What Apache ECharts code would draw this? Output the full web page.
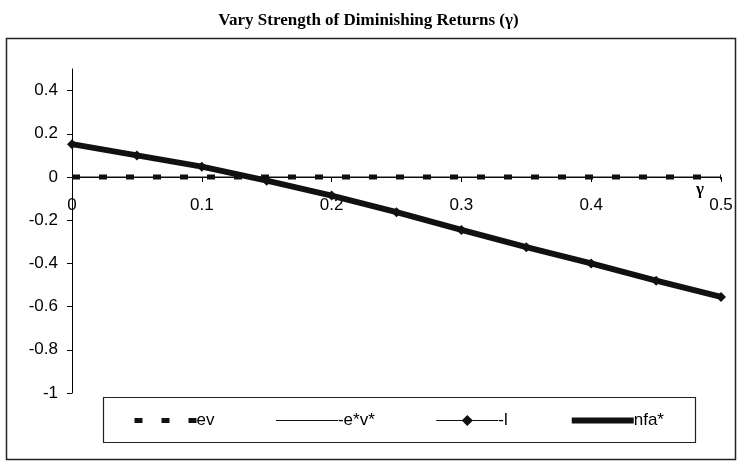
<!DOCTYPE html>
<html>
<head>
<meta charset="utf-8">
<script src="https://cdn.jsdelivr.net/npm/echarts@6/dist/echarts.min.js"></script>
<style>html,body{margin:0;padding:0;background:#fff}#c{width:737px;height:461px}</style>
</head>
<body>
<div id="c"></div>
<script>
var gamma = [0, 0.05, 0.1, 0.15, 0.2, 0.25, 0.3, 0.35, 0.4, 0.45, 0.5];
var ev = [0, 0, 0, 0, 0, 0, 0, 0, 0, 0, 0];
var negEV = [0, 0, 0, 0, 0, 0, 0, 0, 0, 0, 0];
var negL = [0.152, 0.10, 0.048, -0.017, -0.086, -0.163, -0.245, -0.325, -0.40, -0.48, -0.555];
var nfa = [0.152, 0.10, 0.048, -0.017, -0.086, -0.163, -0.245, -0.325, -0.40, -0.48, -0.555];
var yTicks = [-1, -0.8, -0.6, -0.4, -0.2, 0, 0.2, 0.4];
var seriesNames = ['ev', '-e*v*', '-l', 'nfa*'];
var titleText = 'Vary Strength of Diminishing Returns (\u03b3)';
var yMin = -1, yMax = 0.5;

function pairs(vals) { return gamma.map(function (g, i) { return [g, vals[i]]; }); }

var gridTop = 69, gridBottom = 68, H = 461;
var gridH = H - gridTop - gridBottom;
// place the x axis where y = 0 (offset from the bottom edge of the grid)
var zeroOffset = -gridH * (0 - yMin) / (yMax - yMin);

var chart = echarts.init(document.getElementById('c'), null, {renderer: 'canvas'});
var font = '"Liberation Sans", Arial, sans-serif';
var fmt = function (v) { return String(+(+v).toFixed(2)); };
chart.setOption({
  animation: false,
  backgroundColor: '#fff',
  title: {
    text: titleText, left: 'center', top: 7,
    textStyle: {fontFamily: '"Liberation Serif", "Times New Roman", serif', fontWeight: 'bold', fontSize: 17, color: '#000'}
  },
  graphic: [
    {type: 'rect', shape: {x: 6.5, y: 38.5, width: 729, height: 421}, style: {fill: 'none', stroke: '#222', lineWidth: 1.5}, silent: true},
    {type: 'rect', shape: {x: 103.5, y: 397.5, width: 592, height: 45}, style: {fill: '#fff', stroke: '#222', lineWidth: 1.2}, silent: true, z: 5}
  ],
  legend: {
    data: [
      {name: seriesNames[0], itemStyle: {opacity: 0}},
      {name: seriesNames[1], itemStyle: {opacity: 0}},
      {name: seriesNames[2]},
      {name: seriesNames[3], itemStyle: {opacity: 0}}
    ],
    left: 127, top: 407, itemWidth: 62, itemHeight: 14, itemGap: 61, z: 10,
    lineStyle: {width: 'inherit'},
    textStyle: {fontFamily: font, fontSize: 17, color: '#000', padding: [0, 0, 0, -5]}
  },
  grid: {left: 72, right: 16, top: gridTop, bottom: gridBottom, containLabel: false, outerBoundsMode: 'none'},
  xAxis: {
    type: 'value', min: 0, max: 0.5, interval: 0.1, position: 'bottom', offset: zeroOffset,
    name: '\u03b3', nameLocation: 'end', nameGap: -25, nameMoveOverlap: false,
    nameTextStyle: {fontFamily: '"Liberation Serif", serif', fontWeight: 'bold', fontSize: 17, color: '#000', verticalAlign: 'top', padding: [4, 0, 0, 0]},
    axisLine: {onZero: false, lineStyle: {color: '#000', width: 1}},
    axisTick: {show: true, length: 5, lineStyle: {color: '#000'}},
    axisLabel: {fontFamily: font, fontSize: 17, color: '#000', margin: 20, formatter: fmt},
    splitLine: {show: false}
  },
  yAxis: {
    type: 'value', min: yMin, max: yMax, interval: 0.1,
    axisLine: {show: true, lineStyle: {color: '#000', width: 1}},
    axisTick: {show: true, length: 5, lineStyle: {color: '#000'}, customValues: yTicks},
    axisLabel: {fontFamily: font, fontSize: 17, color: '#000', margin: 14, customValues: yTicks, formatter: fmt},
    splitLine: {show: false}
  },
  series: [
    {name: seriesNames[0], type: 'line', data: pairs(ev), symbol: 'none', z: 3,
     lineStyle: {color: '#111', width: 5, type: [8, 19]}, itemStyle: {color: '#111'}},
    {name: seriesNames[1], type: 'line', data: pairs(negEV), symbol: 'none', z: 4,
     lineStyle: {color: '#111', width: 1}, itemStyle: {color: '#111'}},
    {name: seriesNames[2], type: 'line', data: pairs(negL), symbol: 'diamond', symbolSize: 10, showSymbol: true, z: 6,
     lineStyle: {color: '#111', width: 1}, itemStyle: {color: '#111'}},
    {name: seriesNames[3], type: 'line', data: pairs(nfa), symbol: 'none', z: 5,
     lineStyle: {color: '#111', width: 6}, itemStyle: {color: '#111'}}
  ]
});
</script>
</body>
</html>
